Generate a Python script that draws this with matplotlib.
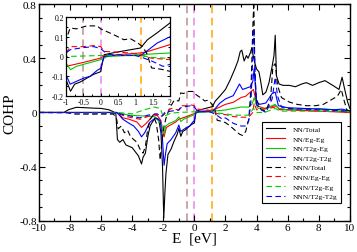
import matplotlib
matplotlib.use("Agg")
import matplotlib.pyplot as plt
from matplotlib.ticker import MultipleLocator

plt.rcParams['font.family'] = ['Liberation Serif', 'DejaVu Serif']
plt.rcParams['axes.unicode_minus'] = False
plt.rcParams['mathtext.fontset'] = 'stix'

# ---- data ----
nn_total_E = [-10, -8.4, -8.1, -7.6, -7.0, -6.5, -6.0, -5.5, -5.2, -5.05, -4.95, -4.8, -4.6, -4.4, -4.2, -4.0,
              -3.8, -3.6, -3.4, -3.3, -3.15, -3.0, -2.85, -2.7, -2.5, -2.3, -2.15, -2.05, -1.97, -1.9, -1.83,
              -1.7, -1.5, -1.3, -1.1, -1.0, -0.87, -0.75, -0.6, -0.4, -0.2, 0.0, 0.05, 0.1, 0.4, 0.85, 1.15,
              1.35, 1.63, 2.0, 2.3, 2.6, 2.8, 2.95, 3.05, 3.2, 3.35, 3.45, 3.6, 3.7, 3.78, 3.9, 4.0, 4.15,
              4.25, 4.4, 4.6, 4.8, 5.0, 5.12, 5.2, 5.28, 5.45, 5.7, 6.1, 6.5, 6.9, 7.2, 7.6, 8.0, 8.4, 8.9,
              9.3, 9.5, 9.65, 9.85, 10]
nn_total = [0, 0, 0.02, 0.038, 0.035, 0.032, 0.03, 0.02, 0.005, -0.01, -0.2, -0.22, -0.2, -0.24, -0.25, -0.26,
            -0.29, -0.32, -0.38, -0.33, -0.3, -0.18, -0.1, -0.07, -0.04, -0.05, -0.15, -0.4, -0.78, -0.6, -0.45,
            -0.31, -0.27, -0.21, -0.16, -0.117, -0.176, -0.14, -0.13, -0.11, -0.09, -0.077, -0.03, 0.009, 0.02,
            0.034, 0.043, 0.085, 0.12, 0.17, 0.24, 0.32, 0.38, 0.45, 0.46, 0.38, 0.42, 0.40, 0.44, 0.48, 0.42,
            0.36, 0.32, 0.3, 0.24, 0.13, 0.15, 0.22, 0.34, 0.42, 0.57, 0.27, 0.21, 0.2, 0.2, 0.19, 0.21, 0.22,
            0.2, 0.22, 0.235, 0.2, 0.17, 0.26, 0.18, 0.08, 0.03]

nn_egeg_E = [-10, -5.0, -4.6, -4.2, -3.7, -3.4, -3.1, -2.7, -2.4, -2.15, -2.05, -1.95, -1.8, -1.5, -1.2, -1.0,
             -0.5, 0.0, 0.1, 1.15, 1.35, 1.63, 2.0, 2.5, 3.0, 3.3, 3.5, 3.8, 3.9, 4.0, 4.5, 5.2, 5.5, 6.0, 8.0, 10]
nn_egeg = [0, 0, -0.04, -0.05, -0.07, -0.11, -0.08, -0.03, -0.02, -0.06, -0.13, -0.18, -0.11, -0.09, -0.07,
           -0.05, -0.03, -0.008, 0.004, 0.018, 0.025, 0.04, 0.06, 0.075, 0.11, 0.12, 0.14, 0.17, 0.12, 0.05,
           0.03, 0.05, 0.025, 0.02, 0.01, 0.0]

nn_t2geg_E = [-10, -5.0, -4.2, -3.4, -2.6, -2.15, -2.05, -1.95, -1.85, -1.6, -1.2, -1.0, -0.87, -0.7, -0.5,
              0.0, 0.2, 1.0, 2.0, 2.5, 3.0, 3.5, 3.7, 3.85, 3.95, 4.1, 4.6, 5.2, 5.4, 6.0, 8.0, 10]
nn_t2geg = [0, 0, -0.02, -0.025, -0.03, -0.08, -0.12, -0.16, -0.1, -0.08, -0.06, -0.033, -0.067, -0.05, -0.04,
            -0.016, 0.0, 0.008, 0.018, 0.03, 0.04, 0.04, 0.06, 0.11, 0.07, 0.03, 0.03, 0.06, 0.03, 0.02, 0.03, 0.01]

nn_t2gt2g_E = [-10, -5.0, -4.9, -4.6, -4.2, -3.9, -3.6, -3.4, -3.2, -2.85, -2.5, -2.2, -2.05, -1.95, -1.85,
               -1.75, -1.5, -1.2, -1.0, -0.88, -0.75, -0.5, -0.3, -0.1, 0.0, 0.1, 0.3, 0.8, 1.15, 1.35, 1.63,
               2.0, 2.5, 2.9, 3.1, 3.35, 3.6, 3.76, 3.84, 3.92, 4.0, 4.2, 4.6, 5.0, 5.2, 5.4, 6.0, 7.0, 8.0,
               9.0, 9.5, 10]
nn_t2gt2g = [0, 0, -0.01, -0.05, -0.08, -0.1, -0.14, -0.18, -0.15, -0.07, -0.04, -0.06, -0.2, -0.39, -0.3,
             -0.23, -0.2, -0.15, -0.093, -0.14, -0.13, -0.11, -0.1, -0.07, -0.06, 0.0, 0.005, 0.005, 0.005,
             0.03, 0.068, 0.1, 0.124, 0.21, 0.17, 0.18, 0.19, 0.23, 0.32, 0.2, 0.08, 0.06, 0.07, 0.14, 0.15,
             0.05, 0.035, 0.03, 0.025, 0.02, 0.025, 0.01]

nnn_total_E = [-10, -8.2, -7.8, -5.2, -5.0, -4.9, -4.7, -4.5, -4.3, -4.1, -3.9, -3.7, -3.5, -3.3, -3.15, -3.0,
               -2.85, -2.65, -2.45, -2.3, -2.2, -2.1, -1.95, -1.8, -1.6, -1.3, -1.0, -0.88, -0.7, -0.4, -0.1,
               0.0, 0.38, 0.67, 0.86, 1.06, 1.2, 1.32, 1.47, 1.76, 2.0, 2.3, 2.6, 2.9, 3.1, 3.3, 3.5, 3.65,
               3.75, 3.82, 3.88, 3.95, 4.1, 4.3, 4.6, 4.9, 5.05, 5.2, 5.35, 5.6, 6.1, 6.6, 7.2, 7.8, 8.3, 8.9,
               9.2, 9.45, 9.6, 9.8, 10]
nnn_total = [0, 0, -0.012, -0.012, -0.05, -0.12, -0.1, -0.15, -0.13, -0.18, -0.2, -0.22, -0.27, -0.3, -0.25,
             -0.12, -0.05, -0.02, -0.08, -0.2, -0.35, -0.22, -0.1, -0.03, 0.03, 0.09, 0.085, 0.144, 0.14,
             0.155, 0.155, 0.14, 0.11, 0.085, 0.09, 0.07, 0.05, 0.02, -0.058, -0.065, -0.075, -0.1, -0.13,
             -0.16, -0.17, -0.14, -0.05, 0.2, 0.6, 0.82, 0.4, 0.12, 0.06, 0.02, 0.01, 0.1, 0.34, 0.36, 0.2,
             0.11, 0.077, 0.06, 0.05, 0.05, 0.06, 0.1, 0.12, 0.17, 0.1, 0.02, 0.01]

nnn_egeg_E = [-10, -5.0, -4.4, -3.5, -3.0, -2.5, -2.2, -2.0, -1.8, -1.5, -1.0, -0.87, -0.5, -0.2, 0.0, 0.1,
              0.85, 1.15, 1.45, 2.0, 2.5, 3.0, 3.5, 3.75, 3.85, 4.0, 4.3, 5.2, 5.5, 6.0, 8.0, 10]
nnn_egeg = [0, -0.005, -0.03, -0.05, -0.03, -0.01, -0.03, -0.02, 0.0, 0.03, 0.018, 0.05, 0.05, 0.055, 0.05,
            0.026, 0.018, 0.009, -0.008, -0.016, -0.03, -0.035, -0.035, 0.0, 0.07, 0.02, 0.02, 0.04, 0.02,
            0.02, 0.01, 0.005]

nnn_t2geg_E = [-10, -5.0, -4.0, -3.2, -2.6, -2.2, -2.0, -1.5, -1.0, 0.0, 1.15, 1.5, 2.0, 2.5, 3.0, 3.5, 3.8,
               4.0, 4.5, 5.2, 5.5, 7.0, 10]
nnn_t2geg = [0, 0, -0.01, 0.02, 0.04, 0.03, -0.03, -0.005, 0.0, 0.005, 0.005, -0.005, -0.01, -0.02, -0.02,
             -0.02, 0.03, 0.0, 0.0, 0.03, 0.01, 0.01, 0.005]

nnn_t2gt2g_E = [-10, -5.0, -4.4, -3.5, -3.0, -2.4, -2.1, -1.9, -1.5, -1.0, -0.87, -0.5, -0.2, 0.0, 0.2, 1.0,
                1.2, 1.5, 1.8, 2.0, 2.5, 3.0, 3.3, 3.5, 3.65, 3.75, 3.82, 3.9, 4.0, 4.3, 4.6, 5.0, 5.2, 5.35,
                5.6, 6.0, 8.0, 10]
nnn_t2gt2g = [0, -0.005, -0.02, -0.04, -0.02, -0.01, -0.03, 0.0, 0.01, 0.018, 0.035, 0.045, 0.05, 0.04, 0.01,
              0.005, -0.005, -0.025, -0.05, -0.04, -0.08, -0.1, -0.1, -0.06, 0.1, 0.4, 0.62, 0.3, 0.06, 0.02,
              0.0, 0.1, 0.26, 0.12, 0.04, 0.03, 0.02, 0.01]

vlines_E = [-0.5, 0.0, 1.15]
vline_colors = ['#bc8f8f', '#ee82ee', '#ffa500']

series = [
    ("NN/Total", nn_total_E, nn_total, 'black', '-'),
    ("NN/Eg-Eg", nn_egeg_E, nn_egeg, 'red', '-'),
    ("NN/T2g-Eg", nn_t2geg_E, nn_t2geg, '#00cc00', '-'),
    ("NN/T2g-T2g", nn_t2gt2g_E, nn_t2gt2g, 'blue', '-'),
    ("NNN/Total", nnn_total_E, nnn_total, 'black', (0, (5, 3))),
    ("NNN/Eg-Eg", nnn_egeg_E, nnn_egeg, 'red', (0, (5, 3))),
    ("NNN/T2g-Eg", nnn_t2geg_E, nnn_t2geg, '#00cc00', (0, (5, 3))),
    ("NNN/T2g-T2g", nnn_t2gt2g_E, nnn_t2gt2g, 'blue', (0, (5, 3))),
]

fig = plt.figure(figsize=(3.57, 2.53), dpi=100)
ax = fig.add_axes([0.109, 0.123, 0.871, 0.857])

for xv, c in zip(vlines_E, vline_colors):
    ax.axvline(xv, color=c, lw=1.1, ls=(0, (5, 3)), zorder=1)
for lab, xe, yv, c, ls in series:
    ax.plot(xe, yv, color=c, ls=ls, lw=0.8, label=lab, zorder=2)

ax.set_xlim(-10, 10)
ax.set_ylim(-0.8, 0.8)
ax.xaxis.set_major_locator(MultipleLocator(2))
ax.xaxis.set_minor_locator(MultipleLocator(1))
ax.yaxis.set_minor_locator(MultipleLocator(0.1))
ax.set_yticks([-0.8, -0.4, 0, 0.4, 0.8])
ax.set_yticklabels(['-0.8', '-0.4', '0', '0.4', '0.8'])
ax.tick_params(which='both', direction='in', top=True, right=True, labelsize=8, pad=1.5)
ax.tick_params(which='major', length=4, width=0.8)
ax.tick_params(which='minor', length=2, width=0.8)
for s in ax.spines.values():
    s.set_linewidth(1.0)
ax.set_xlabel('E  [eV]', fontsize=11, labelpad=0)
ax.set_ylabel('COHP', fontsize=11, labelpad=2)

leg = ax.legend(loc='lower right', bbox_to_anchor=(0.985, 0.065), fontsize=5.4, frameon=True, fancybox=False,
                edgecolor='black', framealpha=1, handlelength=2.6, handletextpad=1.0, labelspacing=0.45,
                borderpad=0.5)
leg.get_frame().set_linewidth(0.8)

# inset
axi = fig.add_axes([66/357, 1-97/253, 104/357, 79/253])
for xv, c in zip(vlines_E, vline_colors):
    axi.axvline(xv, color=c, lw=1.1, ls=(0, (5, 3)), zorder=1)
for lab, xe, yv, c, ls in series:
    axi.plot(xe, yv, color=c, ls=ls, lw=0.8, zorder=2)
axi.set_xlim(-1, 2)
axi.set_ylim(-0.2, 0.2)
axi.xaxis.set_minor_locator(MultipleLocator(0.25))
axi.yaxis.set_minor_locator(MultipleLocator(0.05))
axi.set_xticks([-1, -0.5, 0, 0.5, 1, 1.5, 2])
axi.set_xticklabels(['-1', '-0.5', '0', '0.5', '1', '1.5', '2'])
axi.set_yticks([-0.2, -0.1, 0, 0.1, 0.2])
axi.set_yticklabels(['-0.2', '-0.1', '0', '0.1', '0.2'])
axi.tick_params(which='both', direction='in', top=True, right=True, labelsize=5.5, pad=1.5)
axi.tick_params(which='major', length=2.5, width=0.7)
axi.tick_params(which='minor', length=1.3, width=0.7)
for s in axi.spines.values():
    s.set_linewidth(0.9)

fig.savefig('out.png', dpi=100)
